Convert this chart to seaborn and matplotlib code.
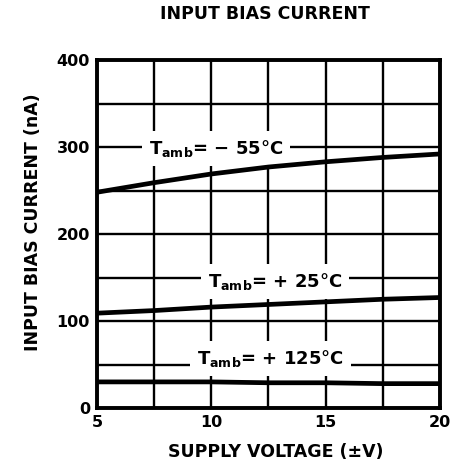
import matplotlib
matplotlib.use("Agg")
import matplotlib.pyplot as plt
from matplotlib.ticker import MultipleLocator
import seaborn as sns
import pandas as pd

# ---- data ----
supply_voltage = [5, 7.5, 10, 12.5, 15, 17.5, 20]
bias_m55 = [248, 259, 269, 277, 283, 288, 292]
bias_p25 = [109, 112, 116, 119, 122, 125, 127]
bias_p125 = [30, 30, 30, 29, 29, 28, 28]
series_names = ["-55", "+25", "+125"]
curve_labels = [r"T$_{\mathbf{amb}}$= − 55°C",
                r"T$_{\mathbf{amb}}$= + 25°C",
                r"T$_{\mathbf{amb}}$= + 125°C"]
label_pos = [(10.2, 298), (12.8, 145), (12.6, 57)]
x_ticks = [5, 10, 15, 20]
y_ticks = [0, 100, 200, 300, 400]

df = pd.DataFrame({
    "V": supply_voltage * 3,
    "I": bias_m55 + bias_p25 + bias_p125,
    "T": [series_names[0]] * 7 + [series_names[1]] * 7 + [series_names[2]] * 7,
})

sns.set_style("white")
plt.rcParams["font.family"] = ["DejaVu Sans"]
plt.rcParams["font.weight"] = "bold"
plt.rcParams["text.color"] = "black"
plt.rcParams["axes.labelcolor"] = "black"
plt.rcParams["xtick.color"] = "black"
plt.rcParams["ytick.color"] = "black"
plt.rcParams["mathtext.fontset"] = "custom"
plt.rcParams["mathtext.rm"] = "DejaVu Sans:bold"
plt.rcParams["mathtext.bf"] = "DejaVu Sans:bold"

fig = plt.figure(figsize=(4.56, 4.71), dpi=100)
ax = fig.add_axes([97 / 456, 1 - 408 / 471, 343 / 456, 348 / 471])

sns.lineplot(data=df, x="V", y="I", hue="T", palette=["black"] * 3,
             linewidth=3.4, legend=False, ax=ax, zorder=4)

ax.set_xlim(5, 20)
ax.set_ylim(0, 400)
ax.xaxis.set_minor_locator(MultipleLocator(2.5))
ax.yaxis.set_minor_locator(MultipleLocator(50))
ax.set_xticks(x_ticks)
ax.set_yticks(y_ticks)
ax.set_xticklabels([str(t) for t in x_ticks], fontsize=11.5, fontweight="bold")
ax.set_yticklabels([str(t) for t in y_ticks], fontsize=11.5, fontweight="bold")
ax.tick_params(which="both", length=0, pad=5, colors="black")
ax.set_axisbelow(True)
ax.grid(True, which="both", color="black", linewidth=1.7)

for s in ax.spines.values():
    s.set_visible(True)
    s.set_color("black")
    s.set_linewidth(2.8)

for txt, (x, y) in zip(curve_labels, label_pos):
    ax.text(x, y, txt, ha="center", va="center", fontsize=13, fontweight="bold",
            color="black", zorder=3,
            bbox=dict(facecolor="white", edgecolor="none", pad=5))

ax.set_xlabel("SUPPLY VOLTAGE (±V)", fontsize=12.5, fontweight="bold", color="black")
ax.xaxis.set_label_coords(0.52, -0.10)
ax.set_ylabel("INPUT BIAS CURRENT (nA)", fontsize=12.5, fontweight="bold", color="black")
ax.yaxis.set_label_coords(-0.16, 0.535)
fig.text(265 / 456, 1 - 14 / 471, "INPUT BIAS CURRENT", ha="center", va="center",
         fontsize=12.5, fontweight="bold", color="black")

fig.savefig("out.png", dpi=100, facecolor="white")
